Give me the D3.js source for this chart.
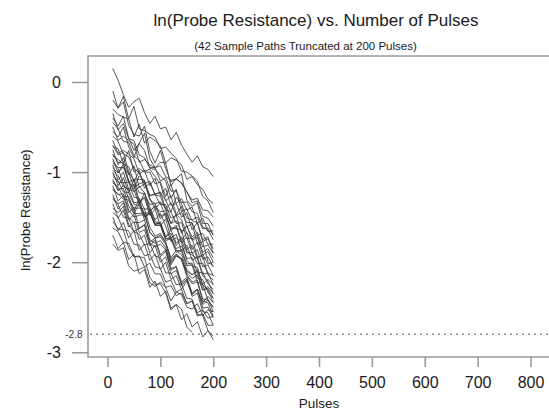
<!DOCTYPE html>
<html>
<head>
<meta charset="utf-8">
<script src="https://cdn.jsdelivr.net/npm/d3@7"></script>
<style>
  html, body { margin: 0; padding: 0; background: #fff; }
  svg { display: block; font-family: "Liberation Sans", Arial, Helvetica, sans-serif; }
</style>
</head>
<body>
<svg id="chart" width="549" height="412"></svg>
<script>
const titleText = "ln(Probe Resistance) vs. Number of Pulses";
const subtitleText = "(42 Sample Paths Truncated at 200 Pulses)";
const xLabel = "Pulses";
const yLabel = "ln(Probe Resistance)";
const xTicks = [0, 100, 200, 300, 400, 500, 600, 700, 800];
const yTicks = [0, -1, -2, -3];
const threshold = -2.8;
const pulses = [10, 20, 30, 40, 50, 60, 70, 80, 90, 100, 110, 120, 130, 140, 150, 160, 170, 180, 190, 200];
const sampleValues = [
  [0.15, 0.02, -0.14, -0.28, -0.22, -0.18, -0.34, -0.46, -0.38, -0.52, -0.50, -0.64, -0.56, -0.70, -0.80, -0.89, -0.82, -0.94, -0.97, -1.05],
  [-0.10, -0.29, -0.16, -0.41, -0.27, -0.52, -0.54, -0.58, -0.61, -0.74, -0.72, -0.79, -0.85, -0.99, -1.00, -1.04, -1.10, -1.27, -1.32, -1.45],
  [-0.20, -0.29, -0.22, -0.48, -0.58, -0.60, -0.49, -0.77, -0.90, -0.76, -0.96, -1.11, -1.07, -1.02, -1.31, -1.38, -1.34, -1.57, -1.57, -1.70],
  [-0.30, -0.36, -0.39, -0.41, -0.61, -0.47, -0.68, -0.61, -0.65, -0.71, -0.90, -0.84, -0.87, -0.92, -1.08, -1.05, -1.14, -1.19, -1.30, -1.35],
  [-0.35, -0.53, -0.46, -0.63, -0.65, -0.81, -0.84, -0.96, -0.97, -1.04, -1.10, -1.29, -1.19, -1.44, -1.41, -1.54, -1.56, -1.75, -1.72, -1.90],
  [-0.40, -0.49, -0.38, -0.62, -0.76, -0.68, -0.57, -0.85, -0.95, -0.89, -0.90, -1.15, -1.07, -1.12, -1.22, -1.34, -1.32, -1.49, -1.51, -1.60],
  [-0.45, -0.52, -0.66, -0.67, -0.82, -0.87, -0.99, -0.97, -1.05, -1.13, -1.32, -1.26, -1.47, -1.38, -1.61, -1.57, -1.80, -1.77, -1.99, -2.05],
  [-0.50, -0.65, -0.60, -0.65, -0.69, -0.89, -0.86, -0.92, -0.95, -1.10, -1.06, -1.21, -1.21, -1.34, -1.33, -1.44, -1.46, -1.61, -1.64, -1.75],
  [-0.55, -0.61, -0.50, -0.72, -0.84, -0.68, -0.76, -0.95, -0.95, -0.93, -1.05, -1.09, -1.08, -1.12, -1.22, -1.31, -1.29, -1.42, -1.43, -1.50],
  [-0.60, -0.66, -0.80, -0.83, -0.96, -1.01, -1.13, -1.10, -1.25, -1.27, -1.42, -1.44, -1.57, -1.56, -1.74, -1.73, -1.94, -1.93, -2.14, -2.20],
  [-0.65, -0.79, -0.76, -0.80, -0.85, -1.02, -0.98, -1.15, -1.07, -1.26, -1.18, -1.37, -1.35, -1.50, -1.45, -1.64, -1.56, -1.77, -1.74, -1.85],
  [-0.70, -0.81, -0.78, -1.00, -1.09, -1.08, -1.09, -1.29, -1.41, -1.34, -1.50, -1.62, -1.63, -1.64, -1.88, -1.92, -1.96, -2.15, -2.21, -2.35],
  [-0.72, -0.74, -0.90, -0.76, -1.00, -0.96, -1.00, -1.00, -1.13, -1.11, -1.27, -1.13, -1.35, -1.29, -1.42, -1.39, -1.57, -1.51, -1.66, -1.65],
  [-0.75, -0.92, -0.84, -1.03, -0.93, -1.17, -1.13, -1.26, -1.25, -1.36, -1.36, -1.51, -1.48, -1.68, -1.59, -1.76, -1.72, -1.92, -1.88, -2.00],
  [-0.80, -0.89, -0.90, -1.09, -1.22, -1.16, -1.23, -1.39, -1.53, -1.46, -1.60, -1.77, -1.73, -1.78, -1.98, -2.04, -2.06, -2.25, -2.31, -2.45],
  [-0.82, -0.86, -0.91, -0.94, -1.11, -0.98, -1.18, -1.12, -1.25, -1.22, -1.41, -1.34, -1.48, -1.45, -1.56, -1.56, -1.70, -1.68, -1.80, -1.80],
  [-0.85, -1.01, -0.94, -1.11, -1.08, -1.23, -1.24, -1.36, -1.35, -1.49, -1.46, -1.63, -1.61, -1.78, -1.72, -1.90, -1.86, -2.05, -2.03, -2.15],
  [-0.88, -0.95, -0.95, -1.01, -1.17, -1.13, -1.11, -1.31, -1.35, -1.33, -1.40, -1.57, -1.47, -1.53, -1.68, -1.74, -1.70, -1.89, -1.85, -1.95],
  [-0.90, -0.96, -1.12, -1.11, -1.28, -1.29, -1.41, -1.41, -1.55, -1.57, -1.74, -1.74, -1.87, -1.88, -2.04, -2.03, -2.22, -2.25, -2.42, -2.50],
  [-0.92, -1.09, -1.00, -1.19, -1.13, -1.35, -1.28, -1.48, -1.41, -1.60, -1.52, -1.73, -1.69, -1.88, -1.81, -1.98, -1.94, -2.13, -2.12, -2.25],
  [-0.95, -1.01, -0.91, -1.11, -1.19, -1.04, -1.10, -1.26, -1.24, -1.23, -1.31, -1.44, -1.28, -1.35, -1.51, -1.53, -1.50, -1.63, -1.62, -1.70],
  [-0.98, -1.04, -1.16, -1.19, -1.34, -1.33, -1.47, -1.43, -1.59, -1.59, -1.76, -1.74, -1.89, -1.86, -2.02, -2.01, -2.18, -2.19, -2.34, -2.40],
  [-1.00, -1.15, -1.06, -1.23, -1.08, -1.33, -1.28, -1.44, -1.37, -1.52, -1.46, -1.65, -1.59, -1.76, -1.67, -1.86, -1.78, -1.97, -1.94, -2.05],
  [-1.02, -1.11, -1.12, -1.30, -1.40, -1.40, -1.41, -1.61, -1.71, -1.68, -1.78, -1.97, -1.91, -1.96, -2.16, -2.24, -2.22, -2.43, -2.45, -2.60],
  [-1.05, -1.10, -1.22, -1.23, -1.36, -1.37, -1.49, -1.45, -1.59, -1.59, -1.74, -1.72, -1.85, -1.82, -1.96, -1.95, -2.12, -2.11, -2.24, -2.30],
  [-1.08, -1.21, -1.15, -1.20, -1.20, -1.36, -1.23, -1.43, -1.38, -1.44, -1.43, -1.57, -1.54, -1.66, -1.60, -1.72, -1.67, -1.83, -1.81, -1.90],
  [-1.10, -1.19, -1.18, -1.38, -1.46, -1.46, -1.45, -1.67, -1.73, -1.72, -1.80, -1.99, -1.91, -1.98, -2.14, -2.22, -2.20, -2.41, -2.41, -2.55],
  [-1.12, -1.16, -1.28, -1.27, -1.43, -1.30, -1.50, -1.44, -1.57, -1.57, -1.72, -1.68, -1.81, -1.76, -1.90, -1.89, -2.02, -2.01, -2.12, -2.15],
  [-1.15, -1.32, -1.26, -1.45, -1.39, -1.63, -1.58, -1.78, -1.73, -1.92, -1.86, -2.09, -2.05, -2.24, -2.19, -2.38, -2.34, -2.55, -2.56, -2.70],
  [-1.18, -1.25, -1.24, -1.42, -1.50, -1.48, -1.47, -1.67, -1.73, -1.70, -1.78, -1.95, -1.87, -1.92, -2.08, -2.14, -2.10, -2.31, -2.29, -2.40],
  [-1.20, -1.24, -1.30, -1.31, -1.46, -1.35, -1.53, -1.45, -1.59, -1.55, -1.72, -1.64, -1.79, -1.72, -1.86, -1.81, -1.96, -1.91, -2.02, -2.00],
  [-1.25, -1.41, -1.34, -1.53, -1.47, -1.67, -1.64, -1.82, -1.75, -1.94, -1.88, -2.07, -2.05, -2.22, -2.17, -2.34, -2.30, -2.51, -2.50, -2.62],
  [-1.28, -1.35, -1.32, -1.50, -1.56, -1.56, -1.53, -1.75, -1.79, -1.76, -1.84, -2.01, -1.93, -1.96, -2.12, -2.18, -2.14, -2.31, -2.27, -2.35],
  [-1.30, -1.36, -1.50, -1.51, -1.66, -1.69, -1.81, -1.79, -1.93, -1.95, -2.12, -2.12, -2.25, -2.24, -2.40, -2.41, -2.58, -2.59, -2.76, -2.82],
  [-1.35, -1.51, -1.42, -1.61, -1.55, -1.75, -1.70, -1.90, -1.81, -2.00, -1.94, -2.13, -2.09, -2.26, -2.19, -2.36, -2.30, -2.47, -2.42, -2.50],
  [-1.40, -1.45, -1.38, -1.58, -1.66, -1.62, -1.59, -1.79, -1.83, -1.80, -1.86, -2.03, -1.93, -1.96, -2.10, -2.14, -2.08, -2.25, -2.19, -2.25],
  [-1.45, -1.50, -1.64, -1.65, -1.80, -1.81, -1.93, -1.91, -2.05, -2.07, -2.22, -2.20, -2.33, -2.30, -2.46, -2.43, -2.60, -2.57, -2.70, -2.70],
  [-1.50, -1.65, -1.56, -1.73, -1.65, -1.87, -1.80, -1.98, -1.91, -2.08, -2.00, -2.19, -2.15, -2.30, -2.21, -2.36, -2.30, -2.45, -2.38, -2.45],
  [-1.55, -1.63, -1.64, -1.84, -1.94, -1.94, -1.95, -2.17, -2.25, -2.24, -2.34, -2.53, -2.47, -2.52, -2.72, -2.78],
  [-1.62, -1.66, -1.78, -1.79, -1.94, -1.93, -2.05, -2.01, -2.13, -2.13, -2.28, -2.26, -2.37, -2.34, -2.46, -2.43, -2.56, -2.53, -2.62, -2.60],
  [-1.70, -1.85, -1.78, -1.97, -1.91, -2.13, -2.08, -2.28, -2.21, -2.38, -2.32, -2.51, -2.47, -2.64, -2.57, -2.72, -2.66, -2.83, -2.76, -2.86],
  [-1.80, -1.87, -1.84, -2.04, -2.10, -2.08, -2.05, -2.23, -2.27, -2.22, -2.28, -2.43, -2.33, -2.36, -2.50, -2.52, -2.46, -2.59, -2.53, -2.55]
];

const svg = d3.select("#chart");
const frame = { left: 88, top: 56, right: 549, bottom: 357 };

const x = d3.scaleLinear().domain([0, 800]).range([107.5, 530.5]);
const y = d3.scaleLinear().domain([0, -3]).range([82, 352.3]);

// Frame (top, left, bottom)
const frameColor = "#9a9a9a";
svg.append("path")
  .attr("d", `M${frame.right},${frame.top}H${frame.left}V${frame.bottom}H${frame.right}`)
  .attr("fill", "none").attr("stroke", frameColor).attr("stroke-width", 1.6);

// Y axis
const yAxis = svg.append("g")
  .attr("transform", `translate(${frame.left},0)`)
  .call(d3.axisLeft(y).tickValues(yTicks).tickFormat(d3.format("d")).tickSize(16).tickPadding(11));
yAxis.select(".domain").remove();
yAxis.selectAll(".tick line").attr("stroke", frameColor).attr("stroke-width", 1.6);
yAxis.selectAll(".tick text").attr("font-size", 16).attr("fill", "#1a1a1a")
  .attr("font-family", "'Liberation Sans', Arial, sans-serif")
  .text(d => d < 0 ? "-" + Math.abs(d) : d);

// X axis
const xAxis = svg.append("g")
  .attr("transform", `translate(0,${frame.bottom})`)
  .call(d3.axisBottom(x).tickValues(xTicks).tickFormat(d3.format("d")).tickSize(10).tickPadding(10));
xAxis.select(".domain").remove();
xAxis.selectAll(".tick line").attr("stroke", frameColor).attr("stroke-width", 1.6);
xAxis.selectAll(".tick text").attr("font-size", 16).attr("fill", "#1a1a1a")
  .attr("font-family", "'Liberation Sans', Arial, sans-serif");

// Threshold line
svg.append("line")
  .attr("x1", frame.left + 2).attr("x2", frame.right)
  .attr("y1", y(threshold)).attr("y2", y(threshold))
  .attr("stroke", "#8a8a8a").attr("stroke-width", 1.4)
  .attr("stroke-dasharray", "2,4");
svg.append("text")
  .attr("x", 82.5).attr("y", y(threshold)).attr("dy", "0.35em")
  .attr("text-anchor", "end").attr("font-size", 10).attr("fill", "#333")
  .text("-" + Math.abs(threshold));

// Sample paths
const line = d3.line()
  .x((d, i) => x(pulses[i]))
  .y(d => y(d));
svg.append("g").selectAll("path")
  .data(sampleValues)
  .join("path")
  .attr("d", line)
  .attr("fill", "none")
  .attr("stroke", "#3a3a3a")
  .attr("stroke-width", 0.85)
  .attr("stroke-linejoin", "round");

// Titles
svg.append("text")
  .attr("x", 316).attr("y", 26)
  .attr("text-anchor", "middle").attr("font-size", 17).attr("fill", "#1a1a1a")
  .text(titleText);
svg.append("text")
  .attr("x", 305.5).attr("y", 50)
  .attr("text-anchor", "middle").attr("font-size", 11.5).attr("fill", "#1a1a1a")
  .text(subtitleText);

// Axis labels
svg.append("text")
  .attr("x", 319).attr("y", 408)
  .attr("text-anchor", "middle").attr("font-size", 13.5).attr("fill", "#1a1a1a")
  .text(xLabel);
svg.append("text")
  .attr("transform", "translate(30,210) rotate(-90)")
  .attr("text-anchor", "middle").attr("font-size", 13).attr("fill", "#1a1a1a")
  .text(yLabel);
</script>
</body>
</html>
